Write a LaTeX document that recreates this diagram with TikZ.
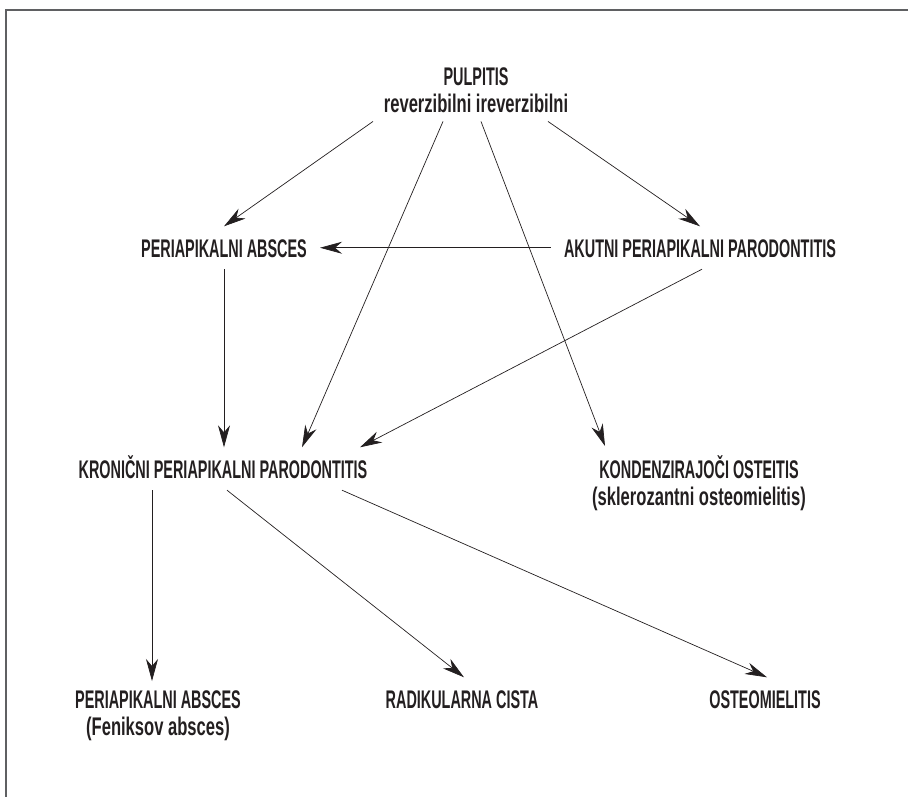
\documentclass[tikz,border=0pt]{standalone}
\usepackage{fontspec}
\setmainfont{Liberation Sans}
\newfontfamily\labfnt[FakeStretch=0.565]{Liberation Sans}
\newfontfamily\subfnt[FakeStretch=0.65]{Liberation Sans}
\usetikzlibrary{arrows.meta}
\definecolor{ink}{HTML}{231F20}
\definecolor{rule}{HTML}{5F6062}
\tikzset{
    lbl/.style={anchor=base, inner xsep=13pt, inner ysep=12pt, text height=18.5pt, text depth=0pt, text=ink, font=\labfnt\bfseries\fontsize{25.5}{27}\selectfont},
    lbltwo/.style={anchor=north, align=center, inner ysep=9pt, text=ink, font=\labfnt\bfseries\fontsize{25.5}{27}\selectfont},
    trans/.style={-{Stealth[length=22pt, width=12pt, inset=7pt]}, line width=0.7pt, ink},
    frame/.style={line width=1.5pt, rule}
}

\begin{document}
\begin{tikzpicture}[x=1pt, y=-1pt]
    \useasboundingbox (0,0) rectangle (908,797);
    \draw[frame] (6,797) -- (6,10) -- (908,10);

    \node[lbltwo] (pulp) at (476,58) {PULPITIS\\{\subfnt reverzibilni ireverzibilni}};
    \node[lbl] (paabs) at (224,257) {PERIAPIKALNI ABSCES};
    \node[lbl] (akut) at (700,257) {AKUTNI PERIAPIKALNI PARODONTITIS};
    \node[lbl] (kron) at (223,478) {KRONIČNI PERIAPIKALNI PARODONTITIS};
    \node[lbltwo] (kond) at (699,446) {KONDENZIRAJOČI OSTEITIS\\{\subfnt (sklerozantni osteomielitis)}};
    \node[lbltwo] (fenik) at (158,681) {PERIAPIKALNI ABSCES\\{\subfnt (Feniksov absces)}};
    \node[lbl] (radik) at (462,708) {RADIKULARNA CISTA};
    \node[lbl] (osteo) at (765,708) {OSTEOMIELITIS};

    % from pulpitis
    \draw[trans] ([xshift=-103pt]pulp.south) -- (paabs.north);
    \draw[trans] ([xshift=-33pt]pulp.south) -- ([xshift=79pt]kron.north);
    \draw[trans] ([xshift=5pt]pulp.south) -- ([xshift=-94pt]kond.north);
    \draw[trans] ([xshift=72pt]pulp.south) -- (akut.north);
    % middle row
    \draw[trans] (akut.west) -- (paabs.east);
    \draw[trans] (paabs.south) -- (paabs.south |- kron.north);
    \draw[trans] ([xshift=2pt]akut.south) -- ([xshift=137pt]kron.north);
    % from kronicni
    \draw[trans] ([xshift=-71pt]kron.south) -- ([xshift=-71pt]kron.south |- fenik.north);
    \draw[trans] ([xshift=4pt]kron.south) -- ([xshift=2pt]radik.north);
    \draw[trans] ([xshift=119pt]kron.south) -- ([xshift=2pt]osteo.north);
\end{tikzpicture}
\end{document}
